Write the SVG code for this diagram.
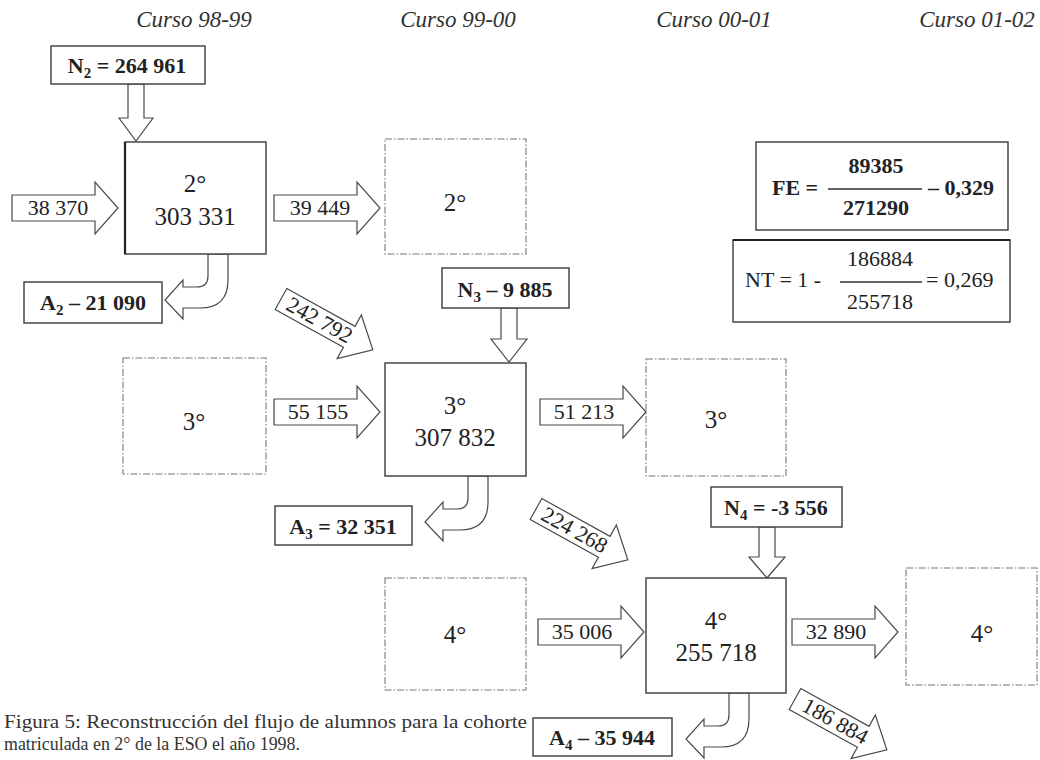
<svg xmlns="http://www.w3.org/2000/svg" width="1040" height="760" viewBox="0 0 1040 760">
<style>
text{font-family:"Liberation Serif","Times New Roman",serif;fill:#222}
.hdr{font-size:23px;font-style:italic;fill:#333;text-anchor:middle}
.big{font-size:25px;text-anchor:middle}
.lbl{font-size:22px;text-anchor:middle}
.bold{font-size:22px;font-weight:bold;text-anchor:middle}
.solid{fill:#fff;stroke:#3a3a3a;stroke-width:1.4}
.dash{fill:none;stroke:#777;stroke-width:1.1;stroke-dasharray:7 2 1.5 2}
.arr{fill:#fff;stroke:#4a4a4a;stroke-width:1.2;stroke-linejoin:miter}
.frac{stroke:#333;stroke-width:1.3}
.cap{font-size:18px;fill:#333}
</style>
<defs>
<path id="harrow" d="M0,-13 L83,-13 L83,-26 L106,0 L83,26 L83,13 L0,13 Z"/>
<path id="darrow" d="M0,-12 L78,-12 L78,-25 L105,0 L78,25 L78,12 L0,12 Z"/>
<path id="carrow" d="M83,0 L83,22 Q83,33 72,33 L58,33 L58,26 L40,46 L58,65 L58,54 L75,54 Q103,54 103,26 L103,0 Z"/>
</defs>
<rect width="1040" height="760" fill="#fff"/>

<g id="headers">
<text class="hdr" x="194" y="27">Curso 98-99</text>
<text class="hdr" x="458" y="27">Curso 99-00</text>
<text class="hdr" x="714" y="27">Curso 00-01</text>
<text class="hdr" x="977" y="27">Curso 01-02</text>
</g>

<g id="connectors">
<path class="arr" d="M128,84 L144,84 L144,118 L153,118 L136,141 L119,118 L128,118 Z"/>
<path class="arr" d="M501,308 L517,308 L517,339 L527,339 L509,362 L491,339 L501,339 Z"/>
<path class="arr" d="M759,527 L775,527 L775,557 L785,557 L767,578 L749,557 L759,557 Z"/>
<use href="#harrow" class="arr" transform="translate(12,208)"/>
<use href="#harrow" class="arr" transform="translate(274,208)"/>
<use href="#harrow" class="arr" transform="translate(274,412)"/>
<use href="#harrow" class="arr" transform="translate(540,412)"/>
<use href="#harrow" class="arr" transform="translate(538,632)"/>
<use href="#harrow" class="arr" transform="translate(792,632)"/>
<use href="#carrow" class="arr" transform="translate(125,254)"/>
<use href="#carrow" class="arr" transform="translate(385,476)"/>
<use href="#carrow" class="arr" transform="translate(646,693)"/>
<g transform="translate(281,299) rotate(29)">
<use href="#darrow" class="arr"/>
<text class="lbl" x="44" y="7" font-size="21">242 792</text>
</g>
<g transform="translate(536,509) rotate(29)">
<use href="#darrow" class="arr"/>
<text class="lbl" x="44" y="7" font-size="21">224 268</text>
</g>
<g transform="translate(795,699) rotate(29)">
<use href="#darrow" class="arr"/>
<text class="lbl" x="46" y="7" font-size="21">186 884</text>
</g>
<text class="lbl" x="58" y="215">38 370</text>
<text class="lbl" x="320" y="215">39 449</text>
<text class="lbl" x="318" y="419">55 155</text>
<text class="lbl" x="584" y="419">51 213</text>
<text class="lbl" x="582" y="639">35 006</text>
<text class="lbl" x="836" y="639">32 890</text>
</g>

<g id="n2">
<rect class="solid" x="51" y="46" width="154" height="38"/>
<text class="bold" x="127" y="73">N<tspan font-size="15" dy="5">2</tspan><tspan dy="-5"> =  264 961</tspan></text>
</g>
<g id="n3">
<rect class="solid" x="442" y="268" width="127" height="40"/>
<text class="bold" x="505" y="297">N<tspan font-size="15" dy="5">3</tspan><tspan dy="-5"> –  9 885</tspan></text>
</g>
<g id="n4">
<rect class="solid" x="711" y="487" width="131" height="40"/>
<text class="bold" x="776" y="515">N<tspan font-size="15" dy="5">4</tspan><tspan dy="-5"> = -3 556</tspan></text>
</g>

<g id="box2">
<rect class="solid" x="125" y="142" width="141" height="112"/>
<line x1="125" y1="142" x2="125" y2="254" stroke="#222" stroke-width="2.2"/>
<text class="big" x="195" y="192">2°</text>
<text class="big" x="195" y="225">303 331</text>
</g>
<g id="box3">
<rect class="solid" x="385" y="363" width="141" height="113"/>
<text class="big" x="455" y="414">3°</text>
<text class="big" x="455" y="446">307 832</text>
</g>
<g id="box4">
<rect class="solid" x="646" y="578" width="140" height="115"/>
<text class="big" x="716" y="629">4°</text>
<text class="big" x="716" y="661">255 718</text>
</g>

<g id="dash2">
<rect class="dash" x="385" y="139" width="141" height="115"/>
<text class="big" x="455" y="211">2°</text>
</g>
<g id="dash3a">
<rect class="dash" x="123" y="358" width="143" height="116"/>
<text class="big" x="194" y="430">3°</text>
</g>
<g id="dash3b">
<rect class="dash" x="646" y="359" width="140" height="117"/>
<text class="big" x="716" y="428">3°</text>
</g>
<g id="dash4a">
<rect class="dash" x="385" y="578" width="141" height="112"/>
<text class="big" x="455" y="643">4°</text>
</g>
<g id="dash4b">
<rect class="dash" x="906" y="568" width="131" height="117"/>
<text class="big" x="982" y="642">4°</text>
</g>

<g id="a2">
<rect class="solid" x="24" y="282" width="138" height="41"/>
<text class="bold" x="93" y="310">A<tspan font-size="15" dy="5">2</tspan><tspan dy="-5"> – 21 090</tspan></text>
</g>
<g id="a3">
<rect class="solid" x="275" y="506" width="137" height="39"/>
<text class="bold" x="343" y="534">A<tspan font-size="15" dy="5">3</tspan><tspan dy="-5"> = 32 351</tspan></text>
</g>
<g id="a4">
<rect class="solid" x="533" y="718" width="139" height="38"/>
<text class="bold" x="602" y="745">A<tspan font-size="15" dy="5">4</tspan><tspan dy="-5"> – 35 944</tspan></text>
</g>

<g id="fe">
<rect class="solid" x="756" y="142" width="252" height="88"/>
<text class="bold" x="772" y="195" text-anchor="start" style="text-anchor:start">FE =</text>
<line class="frac" x1="828" y1="189" x2="922" y2="189"/>
<text class="bold" x="876" y="173">89385</text>
<text class="bold" x="876" y="215">271290</text>
<text class="bold" x="928" y="195" style="text-anchor:start">– 0,329</text>
</g>
<g id="nt">
<rect class="solid" x="733" y="240" width="277" height="82"/>
<line x1="733" y1="240" x2="1010" y2="240" stroke="#222" stroke-width="2.2"/>
<text class="lbl" x="745" y="287" style="text-anchor:start">NT = 1 -</text>
<line class="frac" x1="840" y1="282" x2="922" y2="282"/>
<text class="lbl" x="880" y="266">186884</text>
<text class="lbl" x="880" y="309">255718</text>
<text class="lbl" x="926" y="287" style="text-anchor:start">= 0,269</text>
</g>

<g id="caption">
<text class="cap" x="4" y="728" textLength="523" lengthAdjust="spacingAndGlyphs">Figura 5: Reconstrucción del flujo de alumnos para la cohorte</text>
<text class="cap" x="4" y="750" textLength="296" lengthAdjust="spacingAndGlyphs">matriculada en 2° de la ESO el año 1998.</text>
</g>
</svg>
